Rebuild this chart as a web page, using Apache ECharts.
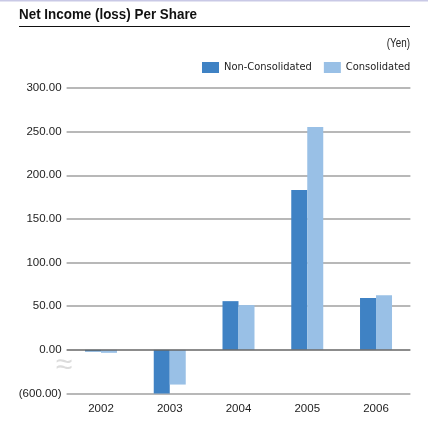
<!DOCTYPE html>
<html>
<head>
<meta charset="utf-8">
<script src="https://cdn.jsdelivr.net/npm/echarts@6/dist/echarts.min.js"></script>
<style>
  html, body { margin: 0; padding: 0; background: #fff; }
  #chart { width: 430px; height: 429px; }
</style>
</head>
<body>
<div id="chart"></div>
<script>
// Fiscal years
const years = ['2002', '2003', '2004', '2005', '2006'];
// Net income (loss) per share, yen
const nonConsolidated = [-23, -600, 55.8, 183.1, 59.3];
const consolidated = [-41, -477, 51.3, 255.4, 62.7];
// Value axis: losses are shown on a compressed segment between (600.00) and 0.00
const yTicks = [-600, 0, 50, 100, 150, 200, 250, 300];
const yBreak = { start: -600, end: 0, gap: 50 };

const condensed = '"DejaVu Sans Condensed", "Liberation Sans", Arial, sans-serif';
const regular = '"Liberation Sans", Arial, sans-serif';

function fmt(v) {
  const r = Math.round(v);
  if (Math.abs(r - v) > 1e-6 || !yTicks.includes(r)) return '';
  return r < 0 ? '(' + (-r).toFixed(2) + ')' : r.toFixed(2);
}

const chart = echarts.init(document.getElementById('chart'), null, { renderer: 'canvas' });
chart.setOption({
  animation: false,
  backgroundColor: '#fff',
  legend: {
    left: 202, top: 62, padding: 0, width: 226,
    itemWidth: 17, itemHeight: 11, itemGap: 12,
    icon: 'rect',
    textStyle: { fontFamily: condensed, fontSize: 11, color: '#222' },
    data: ['Non-Consolidated', 'Consolidated']
  },
  grid: { left: 66.6, right: 19.6, top: 88, bottom: 35.5 },
  xAxis: {
    type: 'category',
    data: years,
    axisLine: { show: false },
    axisTick: { show: false },
    axisLabel: { fontFamily: regular, fontSize: 11.5, color: '#222', margin: 9 }
  },
  yAxis: {
    type: 'value',
    min: -600, max: 300, interval: 50,
    breaks: [yBreak],
    breakArea: {
      show: true,
      itemStyle: { color: 'rgba(0,0,0,0)', borderColor: 'rgba(0,0,0,0)', opacity: 0 },
      expandOnClick: false
    },
    axisLine: { show: false },
    axisTick: { show: false },
    axisLabel: {
      fontFamily: regular, fontSize: 11.5, color: '#222', margin: 5,
      showMinLabel: true, showMaxLabel: true, hideOverlap: false,
      formatter: fmt
    },
    splitLine: { lineStyle: { color: '#a0a0a0', width: 1.5 } }
  },
  series: [
    {
      name: 'Non-Consolidated', type: 'bar', data: nonConsolidated,
      barWidth: 16, barGap: '0%',
      itemStyle: { color: '#3f82c4' },
      markLine: {
        silent: true, symbol: 'none',
        label: { show: false },
        lineStyle: { color: '#666', type: 'solid', width: 1.5 },
        data: [{ yAxis: 0 }]
      }
    },
    {
      name: 'Consolidated', type: 'bar', data: consolidated,
      barWidth: 16,
      itemStyle: { color: '#99c0e6' }
    }
  ],
  graphic: [
    { type: 'rect', shape: { x: 0, y: 0, width: 428, height: 1.5 }, style: { fill: '#c9c9e6' } },
    { type: 'text', x: 19, y: 23, scaleX: 0.865,
      style: { text: 'Net Income (loss) Per Share', font: 'bold 15.5px "Liberation Sans", Arial, sans-serif',
               fill: '#111', textVerticalAlign: 'bottom' } },
    { type: 'line', shape: { x1: 19, y1: 26.5, x2: 410, y2: 26.5 }, style: { stroke: '#111', lineWidth: 1 } },
    { type: 'text', x: 410, y: 44, scaleX: 0.82,
      style: { text: '(Yen)', font: '12px "Liberation Sans", Arial, sans-serif', fill: '#222',
               align: 'right', verticalAlign: 'middle' } },
    { type: 'text', x: 64, y: 366,
      style: { text: '\u2248', font: '30px ' + regular, fill: '#dcdcdc',
               align: 'center', verticalAlign: 'middle' } }
  ]
});
</script>
</body>
</html>
